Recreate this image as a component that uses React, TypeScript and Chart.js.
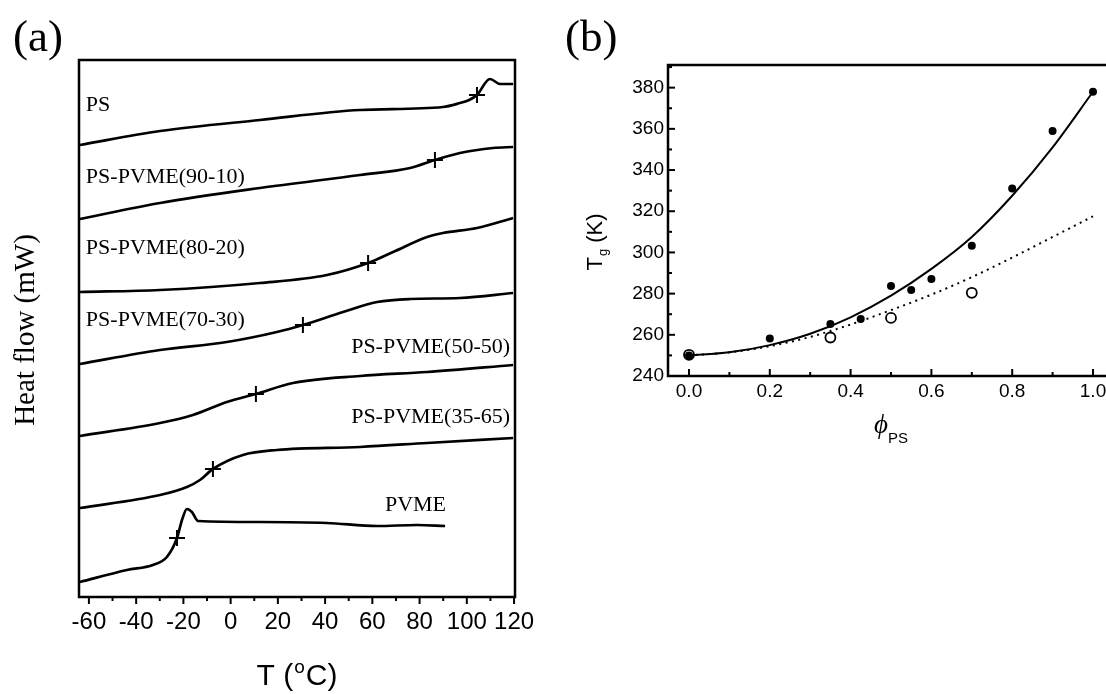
import React, { useEffect, useRef } from 'react';
import { Chart, registerables } from 'chart.js';

Chart.register(...registerables);

// ---------------- Panel (a): DSC traces (T in °C, heat flow in offset units) ----------------
const tempTicks = [-60, -50, -40, -30, -20, -10, 0, 10, 20, 30, 40, 50, 60, 70, 80, 90, 100, 110, 120];
const tempTickLabels = ['-60', '-40', '-20', '0', '20', '40', '60', '80', '100', '120'];

const curveNames = ['PS', 'PS-PVME(90-10)', 'PS-PVME(80-20)', 'PS-PVME(70-30)', 'PS-PVME(50-50)', 'PS-PVME(35-65)', 'PVME'];

const psT = [-63.8, -29.9, 12.4, 54.8, 89.9, 97.1, 101, 104.3, 109.8, 114.1, 119.6];
const psY = [452, 466, 477, 487, 490, 494, 497, 502, 518, 513, 513];

const b9010T = [-63.8, -29.9, 12.4, 54.8, 76.0, 86.5, 97.1, 111.1, 119.6];
const b9010Y = [378, 394, 409, 422, 429, 437, 444, 449, 450];

const b8020T = [-63.8, -29.9, 12.4, 40.8, 58.2, 68.8, 83.2, 89.9, 104.3, 119.6];
const b8020Y = [305, 307, 314, 322, 334, 345, 360, 364, 369, 379];

const b7030T = [-63.8, -29.9, -1.6, 19.6, 30.6, 47.6, 62.0, 76.0, 97.1, 119.6];
const b7030Y = [233, 247, 255, 265, 272, 285, 295, 298, 299, 304];

const b5050T = [-63.8, -29.9, -16.0, -1.6, 10.7, 26.4, 54.8, 83.2, 119.6];
const b5050Y = [161, 174, 182, 195, 203, 214, 221, 225, 232];

const b3565T = [-63.8, -29.9, -18.5, -13.0, -7.5, 5.2, 19.6, 54.8, 83.2, 119.6];
const b3565Y = [89, 102, 110, 117, 128, 142, 147, 150, 154, 159];

const pvmeT = [-63.8, -43.9, -32.9, -27.0, -22.7, -20.6, -18.5, -16.4, -13.8, 12.4, 40.8, 62.0, 78.9, 90.8];
const pvmeY = [15, 27, 32, 40, 59, 77, 88, 85, 76, 75, 74, 71, 72, 71];

// Tg marks ("+") on each trace
const tgMarkT = [104.3, 86.5, 58.2, 30.6, 10.7, -7.5, -22.7];
const tgMarkY = [502, 437, 334, 272, 203, 128, 59];

// label anchors (data coords) for the trace names
const labelAnchor = [
  { t: -61.3, v: 492, align: 'left' },
  { t: -61.3, v: 420, align: 'left' },
  { t: -61.3, v: 349, align: 'left' },
  { t: -61.3, v: 277, align: 'left' },
  { t: 118.3, v: 250, align: 'right' },
  { t: 118.3, v: 180, align: 'right' },
  { t: 91.2, v: 92, align: 'right' },
];

// ---------------- Panel (b): Tg vs composition ----------------
const phiTicks = [0, 0.1, 0.2, 0.3, 0.4, 0.5, 0.6, 0.7, 0.8, 0.9, 1.0];
const phiTickLabels = ['0.0', '0.2', '0.4', '0.6', '0.8', '1.0'];
const tgTicks = [240, 250, 260, 270, 280, 290, 300, 310, 320, 330, 340, 350, 360, 370, 380, 390];
const tgTickLabels = ['240', '260', '280', '300', '320', '340', '360', '380'];

const phiFilled = [0, 0.2, 0.35, 0.425, 0.5, 0.55, 0.6, 0.7, 0.8, 0.9, 1.0];
const tgFilled = [250, 258.2, 265.3, 267.7, 283.7, 281.7, 287.1, 303.2, 331, 359, 378];
const phiOpen = [0, 0.35, 0.5, 0.7];
const tgOpen = [250.3, 258.7, 268.2, 280.4];

const phiFit = [0, 0.1, 0.2, 0.3, 0.4, 0.5, 0.6, 0.7, 0.8, 0.9, 1.0];
const tgFitSolid = [250, 251.5, 255, 260.5, 268.5, 279, 292, 307.5, 327.5, 351, 378];
const tgFitDotted = [250, 251.5, 254.5, 259, 265, 272, 279.5, 288, 297.5, 307.5, 317.5];

const SANS = '"Liberation Sans", Arial, Helvetica, sans-serif';
const SERIF = '"Liberation Serif", "Times New Roman", Times, serif';

const pts = (xs: number[], ys: number[]) => xs.map((x, i) => ({ x, y: ys[i] }));

function PanelA() {
  const ref = useRef<HTMLCanvasElement>(null);
  useEffect(() => {
    const series = [
      [psT, psY], [b9010T, b9010Y], [b8020T, b8020Y], [b7030T, b7030Y],
      [b5050T, b5050Y], [b3565T, b3565Y], [pvmeT, pvmeY],
    ];
    const decor = {
      id: 'decorA',
      afterDraw(chart: any) {
        const ctx = chart.ctx;
        const { left, right, top, bottom } = chart.chartArea;
        const xs = chart.scales.x;
        const ys = chart.scales.y;
        ctx.save();
        ctx.strokeStyle = '#000';
        ctx.fillStyle = '#000';
        ctx.lineWidth = 2.5;
        ctx.strokeRect(left, top, right - left, bottom - top);
        // tick marks (outward)
        ctx.lineWidth = 2;
        xs.ticks.forEach((t: any) => {
          const px = xs.getPixelForValue(t.value);
          const major = tempTickLabels.includes(String(t.value));
          ctx.beginPath();
          ctx.moveTo(px, bottom);
          ctx.lineTo(px, bottom + (major ? 7 : 4));
          ctx.stroke();
        });
        // curve names
        ctx.font = '22px ' + SERIF;
        ctx.textBaseline = 'middle';
        curveNames.forEach((name, i) => {
          const a = labelAnchor[i];
          ctx.textAlign = a.align;
          ctx.fillText(name, xs.getPixelForValue(a.t), ys.getPixelForValue(a.v));
        });
        // panel tag
        ctx.textAlign = 'left';
        ctx.textBaseline = 'alphabetic';
        ctx.font = '45px ' + SERIF;
        ctx.fillText('(a)', 13, 51);
        // y title
        ctx.save();
        ctx.translate(26, 330);
        ctx.rotate(-Math.PI / 2);
        ctx.textAlign = 'center';
        ctx.textBaseline = 'middle';
        ctx.font = '29px ' + SERIF;
        ctx.fillText('Heat flow (mW)', 0, 0);
        ctx.restore();
        // x title T (°C) with superscript o
        const big = '30px ' + SANS;
        const small = '19px ' + SANS;
        ctx.font = big;
        const w1 = ctx.measureText('T (').width;
        const w3 = ctx.measureText('C)').width;
        ctx.font = small;
        const w2 = ctx.measureText('o').width + 2;
        let x = (left + right) / 2 - (w1 + w2 + w3) / 2;
        const base = 685;
        ctx.font = big;
        ctx.fillText('T (', x, base);
        x += w1;
        ctx.font = small;
        ctx.fillText('o', x + 1, base - 12);
        x += w2;
        ctx.font = big;
        ctx.fillText('C)', x, base);
        ctx.restore();
      },
    };
    const chart = new Chart(ref.current as HTMLCanvasElement, {
      type: 'scatter',
      data: {
        datasets: [
          ...series.map((s, i) => ({
            label: curveNames[i],
            data: pts(s[0], s[1]),
            showLine: true,
            borderColor: '#000',
            backgroundColor: '#000',
            borderWidth: 2.7,
            pointRadius: 0,
            cubicInterpolationMode: 'monotone',
            fill: false,
          })),
          {
            label: 'Tg',
            data: pts(tgMarkT, tgMarkY),
            showLine: false,
            pointStyle: 'cross',
            pointRadius: 8,
            borderColor: '#000',
            borderWidth: 2,
          },
        ],
      } as any,
      options: {
        responsive: false,
        animation: false,
        events: [],
        plugins: { legend: { display: false }, tooltip: { enabled: false } },
        layout: { padding: { left: 79, top: 60, right: 45, bottom: 0 } },
        scales: {
          x: {
            type: 'linear',
            min: -64.2,
            max: 120.4,
            bounds: 'data',
            afterBuildTicks: (s: any) => { s.ticks = tempTicks.map((v) => ({ value: v })); },
            afterFit: (s: any) => { s.height = 97; },
            grid: { display: false, drawTicks: false },
            border: { display: false },
            ticks: {
              autoSkip: false,
              maxRotation: 0,
              minRotation: 0,
              padding: 11,
              color: '#000',
              font: { family: SANS, size: 24 },
              callback: (v: any) => (tempTickLabels.includes(String(v)) ? String(v) : ''),
            },
          },
          y: { type: 'linear', display: false, min: 0, max: 537 },
        },
      } as any,
      plugins: [decor as any],
    });
    return () => chart.destroy();
  }, []);
  return (
    <canvas
      ref={ref}
      width={560}
      height={694}
      style={{ position: 'absolute', left: 0, top: 0, width: 560, height: 694 }}
    />
  );
}

function PanelB() {
  const ref = useRef<HTMLCanvasElement>(null);
  useEffect(() => {
    const decor = {
      id: 'decorB',
      afterDraw(chart: any) {
        const ctx = chart.ctx;
        const { left, right, top, bottom } = chart.chartArea;
        const xs = chart.scales.x;
        const ys = chart.scales.y;
        ctx.save();
        ctx.strokeStyle = '#000';
        ctx.fillStyle = '#000';
        ctx.lineWidth = 2.5;
        ctx.beginPath();
        ctx.moveTo(right + 5, top);
        ctx.lineTo(left, top);
        ctx.lineTo(left, bottom);
        ctx.lineTo(right + 5, bottom);
        ctx.stroke();
        // inward ticks
        ctx.lineWidth = 2;
        xs.ticks.forEach((t: any) => {
          const px = xs.getPixelForValue(t.value);
          const major = phiTickLabels.includes(Number(t.value).toFixed(1));
          ctx.beginPath();
          ctx.moveTo(px, bottom);
          ctx.lineTo(px, bottom - (major ? 7 : 4));
          ctx.stroke();
        });
        ys.ticks.forEach((t: any) => {
          const py = ys.getPixelForValue(t.value);
          const major = tgTickLabels.includes(String(t.value));
          ctx.beginPath();
          ctx.moveTo(left, py);
          ctx.lineTo(left + (major ? 7 : 4), py);
          ctx.stroke();
        });
        // panel tag
        ctx.textAlign = 'left';
        ctx.textBaseline = 'alphabetic';
        ctx.font = '45px ' + SERIF;
        ctx.fillText('(b)', 25, 51);
        // y title Tg (K)
        ctx.save();
        ctx.translate(54, 242);
        ctx.rotate(-Math.PI / 2);
        const big = '22px ' + SANS;
        const sub = '13px ' + SANS;
        ctx.font = big;
        const wT = ctx.measureText('T').width;
        const wK = ctx.measureText(' (K)').width;
        ctx.font = sub;
        const wg = ctx.measureText('g').width + 1;
        let x = -(wT + wg + wK) / 2;
        const base = 8;
        ctx.font = big;
        ctx.fillText('T', x, base);
        x += wT;
        ctx.font = sub;
        ctx.fillText('g', x + 1, base + 5);
        x += wg;
        ctx.font = big;
        ctx.fillText(' (K)', x, base);
        ctx.restore();
        // x title phi_PS
        const cx = xs.getPixelForValue(0.5);
        ctx.font = 'italic 27px "Liberation Serif", "DejaVu Serif", serif';
        const wp = ctx.measureText('\u03D5').width;
        ctx.font = '15px ' + SANS;
        const wps = ctx.measureText('PS').width;
        const px0 = cx - (wp + wps) / 2;
        ctx.font = 'italic 27px "Liberation Serif", "DejaVu Serif", serif';
        ctx.fillText('\u03D5', px0, 433);
        ctx.font = '15px ' + SANS;
        ctx.fillText('PS', px0 + wp, 443);
        ctx.restore();
      },
    };
    const chart = new Chart(ref.current as HTMLCanvasElement, {
      type: 'scatter',
      data: {
        datasets: [
          {
            label: 'filled',
            data: pts(phiFilled, tgFilled),
            showLine: false,
            pointStyle: 'circle',
            pointRadius: 4,
            backgroundColor: '#000',
            borderColor: '#000',
            borderWidth: 0,
          },
          {
            label: 'open',
            data: pts(phiOpen, tgOpen),
            showLine: false,
            pointStyle: 'circle',
            pointRadius: 5,
            backgroundColor: 'rgba(255,255,255,0)',
            borderColor: '#000',
            borderWidth: 1.8,
          },
          {
            label: 'fit solid',
            data: pts(phiFit, tgFitSolid),
            showLine: true,
            borderColor: '#000',
            borderWidth: 2,
            pointRadius: 0,
            cubicInterpolationMode: 'monotone',
            fill: false,
          },
          {
            label: 'fit dotted',
            data: pts(phiFit, tgFitDotted),
            showLine: true,
            borderColor: '#000',
            borderWidth: 2,
            borderDash: [2, 4.5],
            pointRadius: 0,
            cubicInterpolationMode: 'monotone',
            fill: false,
          },
        ],
      } as any,
      options: {
        responsive: false,
        animation: false,
        events: [],
        plugins: { legend: { display: false }, tooltip: { enabled: false } },
        layout: { padding: { left: 0, top: 65, right: 34, bottom: 0 } },
        scales: {
          x: {
            type: 'linear',
            min: -0.052,
            max: 1.0322,
            bounds: 'data',
            afterBuildTicks: (s: any) => { s.ticks = phiTicks.map((v) => ({ value: v })); },
            afterFit: (s: any) => { s.height = 318; },
            grid: { display: false, drawTicks: false },
            border: { display: false },
            ticks: {
              autoSkip: false,
              maxRotation: 0,
              minRotation: 0,
              padding: 4,
              color: '#000',
              font: { family: SANS, size: 19 },
              callback: (v: any) => {
                const s = Number(v).toFixed(1);
                return phiTickLabels.includes(s) ? s : '';
              },
            },
          },
          y: {
            type: 'linear',
            min: 240,
            max: 391,
            bounds: 'data',
            afterBuildTicks: (s: any) => { s.ticks = tgTicks.map((v) => ({ value: v })); },
            afterFit: (s: any) => { s.width = 128; },
            grid: { display: false, drawTicks: false },
            border: { display: false },
            ticks: {
              autoSkip: false,
              padding: 4,
              color: '#000',
              font: { family: SANS, size: 19 },
              callback: (v: any) => (tgTickLabels.includes(String(v)) ? String(v) : ''),
            },
          },
        },
      } as any,
      plugins: [decor as any],
    });
    return () => chart.destroy();
  }, []);
  return (
    <canvas
      ref={ref}
      width={600}
      height={694}
      style={{ position: 'absolute', left: 540, top: 0, width: 600, height: 694 }}
    />
  );
}

export default function App() {
  return (
    <div
      style={{
        position: 'absolute',
        left: 0,
        top: 0,
        width: 1106,
        height: 694,
        overflow: 'hidden',
        background: '#fff',
      }}
    >
      <PanelA />
      <PanelB />
    </div>
  );
}
